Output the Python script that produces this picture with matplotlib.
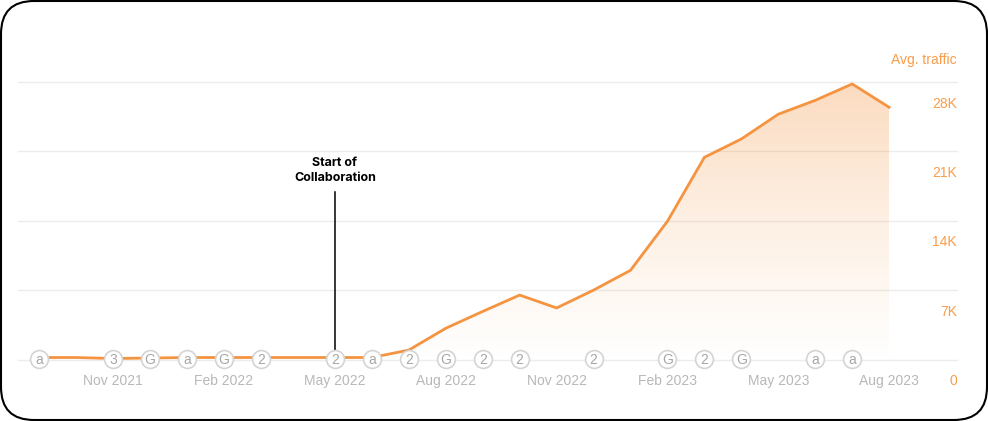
import numpy as np
from matplotlib import pyplot as plt
from matplotlib.colors import LinearSegmentedColormap
from matplotlib.patches import FancyBboxPatch, Polygon
from matplotlib.transforms import blended_transform_factory

months = np.arange(24)
traffic = [200, 200, 100, 150, 200, 200, 200, 200, 200, 200, 950, 3150, 4850, 6500,
           5200, 7000, 9000, 13950, 20400, 22250, 24750, 26150, 27800, 25450]

tick_pos = [2, 5, 8, 11, 14, 17, 20, 23]
tick_labels = ['Nov 2021', 'Feb 2022', 'May 2022', 'Aug 2022',
               'Nov 2022', 'Feb 2023', 'May 2023', 'Aug 2023']

y_vals = [0, 7000, 14000, 21000, 28000]
y_labels = ['0', '7K', '14K', '21K', '28K']

event_pos = [0, 2, 3, 4, 5, 6, 8, 9, 10, 11, 12, 13, 15, 17, 18, 19, 21, 22]
event_labels = ['a', '3', 'G', 'a', 'G', '2', '2', 'a', '2', 'G', '2', '2', '2', 'G', '2', 'G', 'a', 'a']

collab_month = 8
collab_top = 16900

orange = '#f59440'
orange_text = '#f99d4a'
gray_text = '#b8b8b8'
W, H = 988, 421

plt.rcParams['font.family'] = ['Liberation Sans', 'DejaVu Sans']

fig = plt.figure(figsize=(W / 100, H / 100), dpi=100, facecolor='white')

# Rounded card behind the chart
card = FancyBboxPatch((0.01, 0.01), 9.86, 4.19, boxstyle='round,pad=0,rounding_size=0.33',
                      transform=fig.dpi_scale_trans, facecolor='white', edgecolor='black',
                      linewidth=1.5, zorder=-5)
fig.add_artist(card)

ax = fig.add_axes([18 / W, (H - 359.5) / H, 939 / W, 277.5 / H])
ax.patch.set_alpha(0)
xlim = ((18 - 39.3) / 36.95, (957 - 39.3) / 36.95)
for s in ax.spines.values():
    s.set_visible(False)

ax.set_yticks(y_vals)
ax.set_yticklabels([])
ax.tick_params(axis='y', length=0)
ax.grid(axis='y', color='#ececec', linewidth=1)
for g in ax.get_ygridlines():
    g.set_clip_on(False)
ax.set_axisbelow(True)

ax.set_xticks(tick_pos)
ax.set_xticklabels(tick_labels, color=gray_text, fontsize=10)
ax.tick_params(axis='x', length=0, pad=10.5)

# Gradient under the line
cmap = LinearSegmentedColormap.from_list('fade', [(0.96, 0.58, 0.25, 0.0),
                                                  (0.96, 0.58, 0.25, 0.14),
                                                  (0.96, 0.58, 0.25, 0.33)])
grad = np.linspace(1, 0, 256).reshape(-1, 1)
img = ax.imshow(grad, extent=[months[0], months[-1], 0, max(traffic)], aspect='auto',
                cmap=cmap, zorder=1, interpolation='bilinear')
ax.set_xlim(*xlim)
ax.set_ylim(0, 28000)
outline = list(zip(months, traffic)) + [(months[-1], 0), (months[0], 0)]
clip = Polygon(outline, closed=True, transform=ax.transData, facecolor='none', edgecolor='none')
ax.add_patch(clip)
img.set_clip_path(clip)

ax.plot(months, traffic, color=orange, linewidth=2.0, solid_joinstyle='miter', zorder=3, clip_on=False)

ax.plot([collab_month, collab_month], [0, collab_top], color='black', linewidth=1.1, zorder=4)
ax.text(collab_month, 19050, 'Start of\nCollaboration', ha='center', va='center', fontsize=9,
        fontweight='bold', family=['Inter', 'DejaVu Sans'], color='black', linespacing=1.3, zorder=5)

ax.scatter(event_pos, [80] * len(event_pos), s=165, facecolor='white', edgecolor='#d4d4d4',
           linewidth=1.2, zorder=5, clip_on=False)
for p, lab in zip(event_pos, event_labels):
    ax.text(p, 80, lab, ha='center', va='center_baseline', fontsize=10,
            color='#a6a6a6', zorder=6, clip_on=False)

# Right hand axis labels sit below their gridlines
trans = blended_transform_factory(ax.transAxes, ax.transData)
for v, lab in zip(y_vals, y_labels):
    ax.annotate(lab, xy=(1, v), xycoords=trans, xytext=(0, -15.5), textcoords='offset points',
                ha='right', va='center', color=orange_text, fontsize=10)
ax.annotate('Avg. traffic', xy=(1, 28000), xycoords=trans, xytext=(0, 16), textcoords='offset points',
            ha='right', va='center', color=orange_text, fontsize=10)

fig.savefig('out.png', dpi=100)
